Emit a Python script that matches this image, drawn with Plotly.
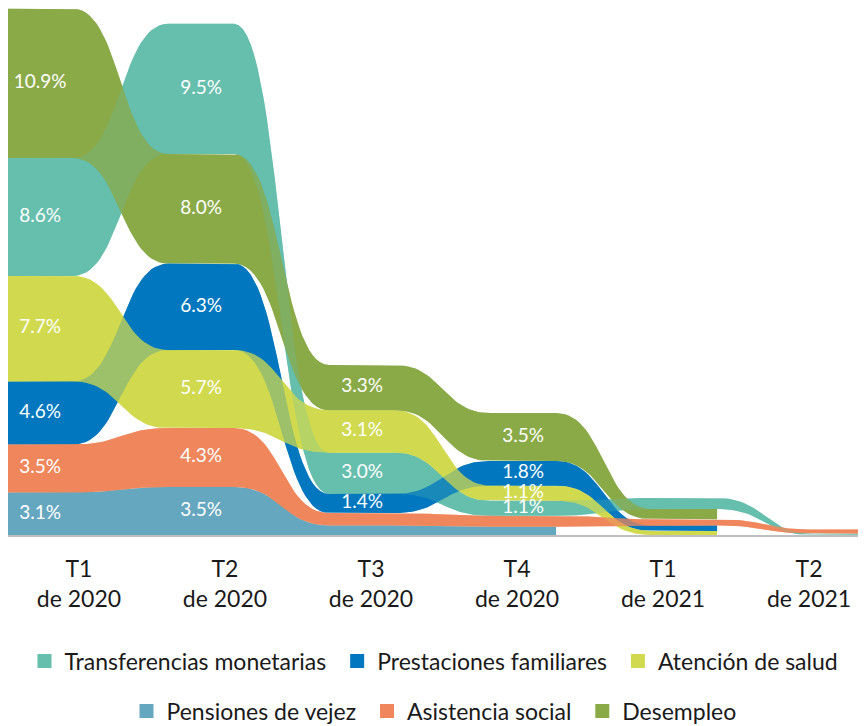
import plotly.graph_objects as go

# Quarters shown on the axis
periods = ["T1<br>de 2020", "T2<br>de 2020", "T3<br>de 2020",
           "T4<br>de 2020", "T1<br>de 2021", "T2<br>de 2021"]

# Series values (% ), None where the series has no data
series_names = ["Transferencias monetarias", "Prestaciones familiares", "Atención de salud",
                "Pensiones de vejez", "Asistencia social", "Desempleo"]
transferencias = [8.6, 9.5, 3.0, 1.1, 0.8, 0.1]
prestaciones = [4.6, 6.3, 1.4, 1.8, 0.4, None]
atencion = [7.7, 5.7, 3.1, 1.1, 0.3, None]
pensiones = [3.1, 3.5, 0.7, 0.6, None, None]
asistencia = [3.5, 4.3, 0.9, 0.8, 0.45, 0.3]
desempleo = [10.9, 8.0, 3.3, 3.5, 0.75, None]

series_values = [transferencias, prestaciones, atencion, pensiones, asistencia, desempleo]
colors = ["#66BEAD", "#0077BE", "#D1DA4E", "#66A7C0", "#F0875C", "#8AAA47"]
fills_soft = ["rgba(102,190,173,0.5)", "rgba(0,119,190,0.5)", "rgba(209,218,78,0.5)",
              "rgba(102,167,192,0.5)", "rgba(240,135,92,0.5)", "rgba(138,170,71,0.5)"]

FONT = "Lato, 'Open Sans', sans-serif"
HALF = 0.205  # half width of the flat part of each bar
PAD = "\u00a0"  # a bit of room between legend entries


def stack_positions():
    """Ribbon chart: at every period the biggest value goes on top"""
    bottoms = [[None] * len(periods) for _ in series_values]
    tops = [[None] * len(periods) for _ in series_values]
    for k in range(len(periods)):
        present = [i for i in range(len(series_values)) if series_values[i][k] is not None]
        present.sort(key=lambda i: (series_values[i][k], i))
        base = 0
        for i in present:
            bottoms[i][k] = base
            base += series_values[i][k]
            tops[i][k] = base
    return bottoms, tops


def bezier(x0, y0, x1, y1, n=30):
    xm = (x0 + x1) / 2
    xs, ys = [], []
    for j in range(1, n):
        t = j / n
        xs.append((1 - t) ** 3 * x0 + 3 * (1 - t) ** 2 * t * xm + 3 * (1 - t) * t ** 2 * xm + t ** 3 * x1)
        ys.append(y0 + (y1 - y0) * (3 * t ** 2 - 2 * t ** 3))
    return xs, ys


def edge(levels, ks):
    xs, ys = [], []
    for n, k in enumerate(ks):
        xs += [k - HALF, k + HALF]
        ys += [levels[k], levels[k]]
        if n + 1 < len(ks):
            bx, by = bezier(k + HALF, levels[k], ks[n + 1] - HALF, levels[ks[n + 1]])
            xs += bx
            ys += by
    return xs, ys


def ribbon_shape(bottom, top):
    ks = [k for k in range(len(periods)) if top[k] is not None]
    tx, ty = edge(top, ks)
    bx, by = edge(bottom, ks)
    return tx + bx[::-1] + [tx[0]], ty + by[::-1] + [ty[0]]


bottoms, tops = stack_positions()
fig = go.Figure()

# solid pass, then a see-through pass so crossing ribbons blend
for fill_list in (colors, fills_soft):
    for i in range(len(series_values)):
        xs, ys = ribbon_shape(bottoms[i], tops[i])
        fig.add_trace(go.Scatter(x=xs, y=ys, fill="toself", fillcolor=fill_list[i],
                                 mode="lines", line=dict(width=0), hoverinfo="skip",
                                 showlegend=False))

# value labels in the middle of each bar
lx, ly, lt = [], [], []
for i in range(len(series_values)):
    for k, v in enumerate(series_values[i]):
        if v is not None and v >= 1.0:
            lx.append(k)
            ly.append((bottoms[i][k] + tops[i][k]) / 2)
            lt.append(f"{v:.1f}%")
fig.add_trace(go.Scatter(x=lx, y=ly, text=lt, mode="text", hoverinfo="skip", showlegend=False,
                         textfont=dict(family=FONT, size=19, color="white")))

# invisible trace carrying the period axis
fig.add_trace(go.Scatter(x=[0, len(periods) - 1], y=[0, 0], xaxis="x2", mode="lines",
                         opacity=0, hoverinfo="skip", showlegend=False))

# legend entries, two rows
for i in range(len(series_names)):
    fig.add_trace(go.Scatter(x=[None], y=[None], mode="markers", name=series_names[i] + PAD,
                             marker=dict(symbol="square", size=14, color=colors[i]),
                             legend="legend" if i < 3 else "legend2"))

legend_style = dict(orientation="h", x=0.5, xanchor="center", yanchor="middle",
                    font=dict(family=FONT, size=23, color="#1a1a1a"),
                    bgcolor="rgba(0,0,0,0)", itemclick=False, itemdoubleclick=False)

# the page body adds 8px around the figure, so the figure is 8px smaller
fig.update_layout(
    width=858, height=718,
    margin=dict(l=0, r=0, t=0, b=191, autoexpand=False),
    plot_bgcolor="white", paper_bgcolor="white",
    xaxis=dict(range=[-0.199, 5.13], showticklabels=False, showgrid=False, zeroline=False,
               showline=True, linecolor="#BFBFBF", linewidth=1.5, ticks=""),
    xaxis2=dict(overlaying="x", side="bottom", range=[-0.486, 5.39],
                tickmode="array", tickvals=list(range(len(periods))), ticktext=periods,
                showgrid=False, zeroline=False, showline=False, ticks="",
                ticklabelstandoff=18,
                tickfont=dict(family=FONT, size=23, color="#1a1a1a")),
    yaxis=dict(range=[0, 38.45], showticklabels=False, showgrid=False, zeroline=False,
               showline=True, linecolor="#BFBFBF", linewidth=1.5, ticks=""),
    legend=dict(y=-0.239, **legend_style),
    legend2=dict(y=-0.334, **legend_style),
    showlegend=True,
)

fig.write_html("out.html")
